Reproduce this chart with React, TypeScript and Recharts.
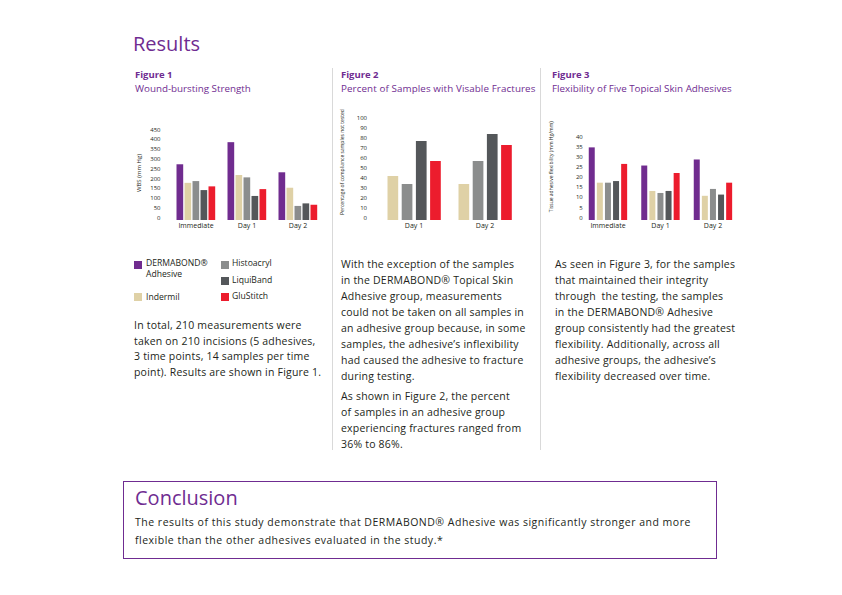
import { BarChart, Bar, XAxis, YAxis } from "recharts";

const PURPLE = "#6f2c91";
const INK = "#231f20";
const FONT = '"Open Sans", "DejaVu Sans", sans-serif';

// series (order of bars in each group)
const adhesiveKeys = ["dermabond", "indermil", "histoacryl", "liquiband", "glustitch"];
const adhesiveNames = ["DERMABOND® Adhesive", "Indermil", "Histoacryl", "LiquiBand", "GluStitch"];
const adhesiveColors = ["#702c8f", "#dfd1a6", "#8b8d8d", "#54575a", "#ec1c2d"];

// Figure 1 – wound-bursting strength (mm Hg)
const timePoints = ["Immediate", "Day 1", "Day 2"];
const wbsDermabond = [285, 398, 244];
const wbsIndermil = [190, 230, 165];
const wbsHistoacryl = [199, 218, 72];
const wbsLiquiband = [153, 123, 85];
const wbsGlustitch = [172, 158, 78];
const wbsTicks = [0, 50, 100, 150, 200, 250, 300, 350, 400, 450];

// Figure 2 – percent of samples with visible fractures
const fractureDays = ["Day 1", "Day 2"];
const fracIndermil = [44, 36];
const fracHistoacryl = [36, 59];
const fracLiquiband = [79, 86];
const fracGlustitch = [59, 75];
const fracTicks = [0, 10, 20, 30, 40, 50, 60, 70, 80, 90, 100];

// Figure 3 – flexibility (mm Hg/mm)
const flexDermabond = [36, 27, 30];
const flexIndermil = [18.5, 14.4, 12];
const flexHistoacryl = [18.5, 13.4, 15.4];
const flexLiquiband = [19.3, 14.4, 12.6];
const flexGlustitch = [27.8, 23.3, 18.5];
const flexTicks = [0, 5, 10, 15, 20, 25, 30, 35, 40];

const wbsData = timePoints.map((t, i) => ({
  time: t,
  dermabond: wbsDermabond[i],
  indermil: wbsIndermil[i],
  histoacryl: wbsHistoacryl[i],
  liquiband: wbsLiquiband[i],
  glustitch: wbsGlustitch[i],
}));

const fracData = fractureDays.map((t, i) => ({
  time: t,
  indermil: fracIndermil[i],
  histoacryl: fracHistoacryl[i],
  liquiband: fracLiquiband[i],
  glustitch: fracGlustitch[i],
}));

const flexData = timePoints.map((t, i) => ({
  time: t,
  dermabond: flexDermabond[i],
  indermil: flexIndermil[i],
  histoacryl: flexHistoacryl[i],
  liquiband: flexLiquiband[i],
  glustitch: flexGlustitch[i],
}));

const yTick = { fontSize: 6, fill: INK, fontFamily: FONT, dy: -2.5 };
const xTick = { fontSize: 7, fill: INK, fontFamily: FONT };

function Lines({ x, y, lh, size, lines, color = INK, weight = 400, ls = 0 }: any) {
  return (
    <div
      style={{
        position: "absolute",
        left: x,
        top: y,
        fontSize: size,
        lineHeight: `${lh}px`,
        letterSpacing: ls,
        color,
        fontWeight: weight,
        whiteSpace: "pre",
      }}
    >
      {lines.map((l: string, i: number) => (
        <div key={i}>{l}</div>
      ))}
    </div>
  );
}

function Swatch({ x, y, color }: { x: number; y: number; color: string }) {
  return <div style={{ position: "absolute", left: x, top: y, width: 8, height: 7.5, background: color }} />;
}

const BODY = 10.5;
const BODY_LS = 0.2;

export default function App() {
  return (
    <div
      style={{
        position: "absolute",
        left: 0,
        top: 0,
        width: 842,
        height: 595,
        background: "#fff",
        fontFamily: FONT,
        overflow: "hidden",
      }}
    >
      <Lines x={133} y={30} lh={28} size={20} color={PURPLE} lines={["Results"]} />

      {/* column separators */}
      <div style={{ position: "absolute", left: 331.5, top: 68, width: 1, height: 382, background: "#d9d9d9" }} />
      <div style={{ position: "absolute", left: 540, top: 68, width: 1, height: 382, background: "#d9d9d9" }} />

      <Lines x={135} y={68} lh={14} size={9.5} color={PURPLE} weight={700} lines={["Figure 1"]} />
      <Lines x={135} y={82} lh={14} size={9.8} color={PURPLE} lines={["Wound-bursting Strength"]} />
      <Lines x={341} y={68} lh={14} size={9.5} color={PURPLE} weight={700} lines={["Figure 2"]} />
      <Lines x={341} y={82} lh={14} size={9.8} ls={0.1} color={PURPLE} lines={["Percent of Samples with Visable Fractures"]} />
      <Lines x={552} y={68} lh={14} size={9.5} color={PURPLE} weight={700} lines={["Figure 3"]} />
      <Lines x={552} y={82} lh={14} size={9.8} color={PURPLE} lines={["Flexibility of Five Topical Skin Adhesives"]} />

      {/* Figure 1 */}
      <div style={{ position: "absolute", left: 130, top: 115 }}>
        <BarChart width={200} height={125} data={wbsData} margin={{ top: 17, right: 6.5, bottom: 0, left: 0 }} barSize={6.7} barGap={1.3}>
          <XAxis dataKey="time" axisLine={false} tickLine={false} tickSize={0} tickMargin={3} height={20} tick={xTick} interval={0} />
          <YAxis
            domain={[0, 450]}
            ticks={wbsTicks}
            interval={0}
            axisLine={false}
            tickLine={false}
            tickSize={0}
            tickMargin={10}
            width={40.5}
            tick={yTick}
            label={{ value: "WBS (mm Hg)", angle: -90, position: "insideLeft", offset: 9, dy: -3, fontSize: 6, fill: INK, style: { textAnchor: "middle" } }}
          />
          {adhesiveKeys.map((k, i) => (
            <Bar key={k} dataKey={k} name={adhesiveNames[i]} fill={adhesiveColors[i]} isAnimationActive={false} />
          ))}
        </BarChart>
      </div>

      {/* Figure 2 */}
      <div style={{ position: "absolute", left: 336, top: 103 }}>
        <BarChart width={200} height={137} data={fracData} margin={{ top: 17, right: 15.5, bottom: 0, left: 0 }} barSize={10.7} barGap={3.5}>
          <XAxis dataKey="time" axisLine={false} tickLine={false} tickSize={0} tickMargin={3} height={20} tick={xTick} interval={0} />
          <YAxis
            domain={[0, 100]}
            ticks={fracTicks}
            interval={0}
            axisLine={false}
            tickLine={false}
            tickSize={0}
            tickMargin={11.5}
            width={42.5}
            tick={yTick}
            label={{ value: "Percentage of compliance samples not tested", angle: -90, position: "insideLeft", offset: 6, dy: -8, fontSize: 5, fill: INK, style: { textAnchor: "middle" } }}
          />
          {adhesiveKeys.slice(1).map((k, i) => (
            <Bar key={k} dataKey={k} name={adhesiveNames[i + 1]} fill={adhesiveColors[i + 1]} isAnimationActive={false} />
          ))}
        </BarChart>
      </div>

      {/* Figure 3 */}
      <div style={{ position: "absolute", left: 548, top: 115 }}>
        <BarChart width={200} height={125} data={flexData} margin={{ top: 24.3, right: 8.75, bottom: 0, left: 0 }} barSize={6} barGap={2.1}>
          <XAxis dataKey="time" axisLine={false} tickLine={false} tickSize={0} tickMargin={3} height={20} tick={xTick} interval={0} />
          <YAxis
            domain={[0, 40]}
            ticks={flexTicks}
            interval={0}
            axisLine={false}
            tickLine={false}
            tickSize={0}
            tickMargin={-1}
            width={33.75}
            tick={yTick}
            label={{ value: "Tissue adhesive flexibility (mm Hg/mm)", angle: -90, position: "insideLeft", offset: 3, dy: -13, fontSize: 5, fill: INK, style: { textAnchor: "middle" } }}
          />
          {adhesiveKeys.map((k, i) => (
            <Bar key={k} dataKey={k} name={adhesiveNames[i]} fill={adhesiveColors[i]} isAnimationActive={false} />
          ))}
        </BarChart>
      </div>

      {/* shared legend */}
      <Swatch x={134} y={261} color={adhesiveColors[0]} />
      <Lines x={146} y={258} lh={11} size={8.6} lines={["DERMABOND®", "Adhesive"]} />
      <Swatch x={134} y={293} color={adhesiveColors[1]} />
      <Lines x={146} y={292} lh={11} size={8.6} lines={[adhesiveNames[1]]} />
      <Swatch x={220.5} y={261} color={adhesiveColors[2]} />
      <Lines x={232} y={258} lh={11} size={8.6} lines={[adhesiveNames[2]]} />
      <Swatch x={220.5} y={277} color={adhesiveColors[3]} />
      <Lines x={232} y={275} lh={11} size={8.6} lines={[adhesiveNames[3]]} />
      <Swatch x={220.5} y={293} color={adhesiveColors[4]} />
      <Lines x={232} y={291} lh={11} size={8.6} lines={[adhesiveNames[4]]} />

      <Lines
        x={134}
        y={318}
        lh={15.5}
        size={BODY}
        ls={BODY_LS}
        lines={[
          "In total, 210 measurements were",
          "taken on 210 incisions (5 adhesives,",
          "3 time points, 14 samples per time",
          "point). Results are shown in Figure 1.",
        ]}
      />
      <Lines
        x={341}
        y={256}
        lh={16}
        size={BODY}
        ls={BODY_LS}
        lines={[
          "With the exception of the samples",
          "in the DERMABOND® Topical Skin",
          "Adhesive group, measurements",
          "could not be taken on all samples in",
          "an adhesive group because, in some",
          "samples, the adhesive’s inflexibility",
          "had caused the adhesive to fracture",
          "during testing.",
        ]}
      />
      <Lines
        x={341}
        y={388}
        lh={16}
        size={BODY}
        ls={BODY_LS}
        lines={[
          "As shown in Figure 2, the percent",
          "of samples in an adhesive group",
          "experiencing fractures ranged from",
          "36% to 86%.",
        ]}
      />
      <Lines
        x={555}
        y={256}
        lh={16}
        size={BODY}
        ls={BODY_LS}
        lines={[
          "As seen in Figure 3, for the samples",
          "that maintained their integrity",
          "through  the testing, the samples",
          "in the DERMABOND® Adhesive",
          "group consistently had the greatest",
          "flexibility. Additionally, across all",
          "adhesive groups, the adhesive’s",
          "flexibility decreased over time.",
        ]}
      />

      {/* conclusion box */}
      <div
        style={{
          position: "absolute",
          left: 123,
          top: 481,
          width: 592,
          height: 76,
          border: `1px solid ${PURPLE}`,
        }}
      />
      <Lines x={135} y={484} lh={28} size={20} color={PURPLE} lines={["Conclusion"]} />
      <Lines
        x={135}
        y={513}
        lh={18}
        size={BODY}
        ls={0.5}
        lines={[
          "The results of this study demonstrate that DERMABOND® Adhesive was significantly stronger and more",
          "flexible than the other adhesives evaluated in the study.*",
        ]}
      />
    </div>
  );
}
